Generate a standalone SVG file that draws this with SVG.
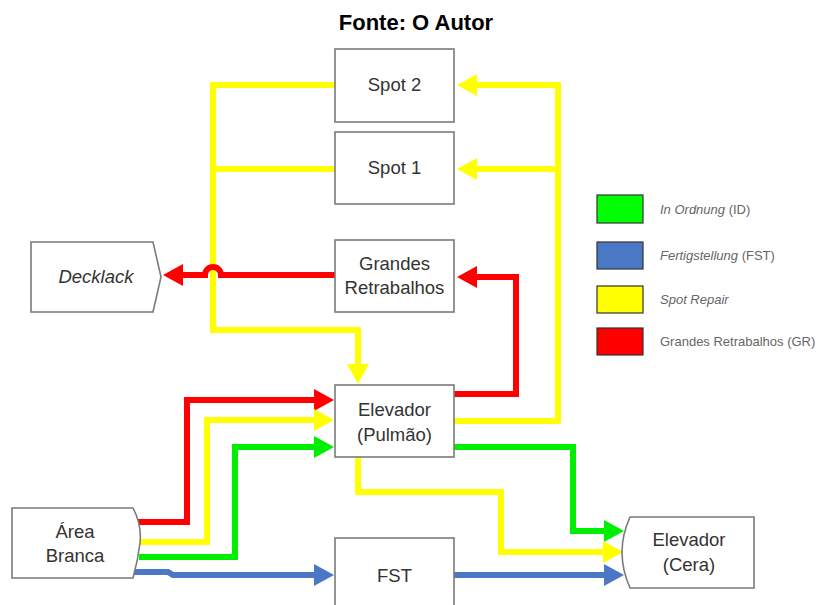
<svg xmlns="http://www.w3.org/2000/svg" width="823" height="605" viewBox="0 0 823 605">
<style>
.box{fill:#fff;stroke:#7a7a7a;stroke-width:1.6}
.t{font-family:"Liberation Sans",Arial,sans-serif;font-size:18.5px;fill:#333;text-anchor:middle}
.lg{font-family:"Liberation Sans",Arial,sans-serif;font-size:13px;fill:#666}
.c{fill:none;stroke-width:6;stroke-linejoin:miter}
.r{stroke:#ff0000}.y{stroke:#ffff00}.g{stroke:#00ee00}.b{stroke:#4a78c4}
.sw{stroke:#333;stroke-width:1.2}
</style>
<defs>
<marker id="ar" viewBox="0 0 20 22" refX="1" refY="11" markerWidth="20" markerHeight="22" markerUnits="userSpaceOnUse" orient="auto"><path d="M0,0 L20,11 L0,22 z" fill="#ff0000"/></marker>
<marker id="ay" viewBox="0 0 20 22" refX="1" refY="11" markerWidth="20" markerHeight="22" markerUnits="userSpaceOnUse" orient="auto"><path d="M0,0 L20,11 L0,22 z" fill="#ffff00"/></marker>
<marker id="ag" viewBox="0 0 20 22" refX="1" refY="11" markerWidth="20" markerHeight="22" markerUnits="userSpaceOnUse" orient="auto"><path d="M0,0 L20,11 L0,22 z" fill="#00ee00"/></marker>
<marker id="ab" viewBox="0 0 20 22" refX="1" refY="11" markerWidth="20" markerHeight="22" markerUnits="userSpaceOnUse" orient="auto"><path d="M0,0 L20,11 L0,22 z" fill="#4a78c4"/></marker>
</defs>
<rect width="823" height="605" fill="#fff"/>
<text x="416" y="30" font-family="'Liberation Sans',Arial,sans-serif" font-size="22" font-weight="bold" text-anchor="middle" fill="#000">Fonte: O Autor</text>

<g id="connectors">
<path class="c y" d="M335,85 H213 V330 H358 V365" marker-end="url(#ay)"/>
<path class="c y" d="M335,169 H213"/>
<path class="c r" d="M335,275 H221 A8,8 0 0 0 205,275 H182" marker-end="url(#ar)"/>
<path class="c r" d="M134,522 H187 V400 H315" marker-end="url(#ar)"/>
<path class="c y" d="M140,542 H207 V420 H315" marker-end="url(#ay)"/>
<path class="c g" d="M139,557 H235 V447 H315" marker-end="url(#ag)"/>
<path class="c b" d="M133,572 H168 L173,575 H315" marker-end="url(#ab)"/>
<path class="c r" d="M454,394 H516 V277 H476" marker-end="url(#ar)"/>
<path class="c y" d="M454,421 H558 V85 H476" marker-end="url(#ay)"/>
<path class="c y" d="M558,169 H476" marker-end="url(#ay)"/>
<path class="c g" d="M454,447 H573 V531 H605" marker-end="url(#ag)"/>
<path class="c y" d="M358,457 V492 H501 V552 H604" marker-end="url(#ay)"/>
<path class="c b" d="M454,575 H605" marker-end="url(#ab)"/>
</g>

<g id="spot2"><rect class="box" x="335" y="49" width="119" height="73"/><text class="t" x="394.5" y="91">Spot 2</text></g>
<g id="spot1"><rect class="box" x="335" y="132" width="119" height="72"/><text class="t" x="394.5" y="174">Spot 1</text></g>
<g id="grandes"><rect class="box" x="335" y="240" width="119" height="72"/><text class="t" x="394.5" y="270">Grandes</text><text class="t" x="394.5" y="294">Retrabalhos</text></g>
<g id="decklack"><path class="box" d="M31,242 H153 L161,277 L153,312 H31 Z"/><text class="t" x="96" y="283" font-style="italic">Decklack</text></g>
<g id="elevador-pulmao"><rect class="box" x="335" y="385" width="119" height="72"/><text class="t" x="394.5" y="416">Elevador</text><text class="t" x="394.5" y="441">(Pulmão)</text></g>
<g id="area-branca"><path class="box" d="M12,508 H133 Q142,525 140,543 Q138,560 133,578 H12 Z"/><text class="t" x="75" y="538">Área</text><text class="t" x="75" y="562">Branca</text></g>
<g id="fst"><rect class="box" x="335" y="538" width="119" height="80"/><text class="t" x="394.5" y="582">FST</text></g>
<g id="elevador-cera"><path class="box" d="M630,517 H754 V588 H630 Q622,570 622,552 Q622,535 630,517 Z"/><text class="t" x="689" y="546">Elevador</text><text class="t" x="689" y="571">(Cera)</text></g>

<g id="legend">
<rect class="sw" x="597" y="195" width="46" height="28" fill="#00ff00"/>
<rect class="sw" x="597" y="242" width="46" height="27" fill="#4a78c4"/>
<rect class="sw" x="597" y="286" width="46" height="27" fill="#ffff00"/>
<rect class="sw" x="597" y="328" width="46" height="27" fill="#ff0000"/>
<text class="lg" x="660" y="214"><tspan font-style="italic">In Ordnung</tspan> (ID)</text>
<text class="lg" x="660" y="260"><tspan font-style="italic">Fertigstellung</tspan> (FST)</text>
<text class="lg" x="660" y="304" font-style="italic">Spot Repair</text>
<text class="lg" x="660" y="346">Grandes Retrabalhos (GR)</text>
</g>
</svg>
